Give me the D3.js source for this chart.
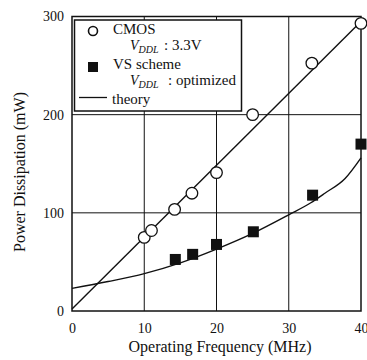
<!DOCTYPE html>
<html>
<head>
<meta charset="utf-8">
<script src="https://cdn.jsdelivr.net/npm/d3@7/dist/d3.min.js"></script>
<style>
  html, body { margin: 0; padding: 0; background: #fff; }
  svg { display: block; font-family: "Liberation Serif", "Times New Roman", serif; }
</style>
</head>
<body>
<svg id="chart" width="367" height="360"></svg>
<script>
// Measured power vs. operating frequency
const cmosFreq  = [10, 11, 14.2, 16.6, 20, 25, 33.2, 40];
const cmosPower = [75, 82, 103.5, 120, 141, 200, 252.5, 293];

const vsFreq  = [14.3, 16.7, 20, 25.1, 33.3, 40];
const vsPower = [52.5, 57.7, 67.8, 80.7, 118, 170];

// Theory curves
const cmosTheoryFreq  = [0, 40];
const cmosTheoryPower = [2, 295];
const vsTheoryFreq  = [0, 5, 10, 15, 20, 25, 30, 33, 35, 37.8, 40];
const vsTheoryPower = [23, 30, 38, 49, 63, 79, 98, 110, 120, 135, 156];

const xTicks = [0, 10, 20, 30, 40];
const yTicks = [0, 100, 200, 300];

const W = 367, H = 360;
const margin = { left: 72, right: 6, top: 16.5, bottom: 49 };

const svg = d3.select("#chart");
const x = d3.scaleLinear().domain([0, 40]).range([margin.left, W - margin.right]);
const y = d3.scaleLinear().domain([0, 300]).range([H - margin.bottom, margin.top]);

// Grid lines
const grid = svg.append("g").attr("stroke", "#111").attr("stroke-width", 1);
grid.selectAll("line.vx").data(xTicks.slice(1, -1)).join("line")
  .attr("x1", d => x(d)).attr("x2", d => x(d))
  .attr("y1", y(0)).attr("y2", y(300));
grid.selectAll("line.hy").data(yTicks.slice(1, -1)).join("line")
  .attr("x1", x(0)).attr("x2", x(40))
  .attr("y1", d => y(d)).attr("y2", d => y(d));

// Frame
svg.append("rect")
  .attr("x", x(0)).attr("y", y(300))
  .attr("width", x(40) - x(0)).attr("height", y(0) - y(300))
  .attr("fill", "none").attr("stroke", "#111").attr("stroke-width", 1.5);

// Axes (labels only; frame already drawn)
const xAxis = svg.append("g")
  .attr("transform", `translate(0,${y(0)})`)
  .call(d3.axisBottom(x).tickValues(xTicks).tickSize(0).tickPadding(12));
const yAxis = svg.append("g")
  .attr("transform", `translate(${x(0)},0)`)
  .call(d3.axisLeft(y).tickValues(yTicks).tickSize(0).tickPadding(8));
[xAxis, yAxis].forEach(g => {
  g.select(".domain").remove();
  g.selectAll("text")
    .attr("font-family", "Liberation Serif, Times New Roman, serif")
    .attr("font-size", 14).attr("fill", "#111");
});

// Axis titles
svg.append("text")
  .attr("x", 220).attr("y", 352)
  .attr("text-anchor", "middle").attr("font-size", 16).attr("fill", "#111")
  .text("Operating Frequency (MHz)");
svg.append("text")
  .attr("transform", `translate(25,172) rotate(-90)`)
  .attr("text-anchor", "middle").attr("font-size", 16).attr("fill", "#111")
  .text("Power Dissipation (mW)");

// Theory lines
const line = d3.line().x(d => x(d[0])).y(d => y(d[1]));
svg.append("path")
  .datum(d3.zip(cmosTheoryFreq, cmosTheoryPower))
  .attr("d", line).attr("fill", "none").attr("stroke", "#111").attr("stroke-width", 1.4);
svg.append("path")
  .datum(d3.zip(vsTheoryFreq, vsTheoryPower))
  .attr("d", line.curve(d3.curveMonotoneX)).attr("fill", "none")
  .attr("stroke", "#111").attr("stroke-width", 1.4);

// Data markers
svg.append("g").selectAll("circle")
  .data(d3.zip(cmosFreq, cmosPower)).join("circle")
  .attr("cx", d => x(d[0])).attr("cy", d => y(d[1])).attr("r", 5.8)
  .attr("fill", "#fff").attr("stroke", "#111").attr("stroke-width", 1.3);
const sq = 11;
svg.append("g").selectAll("rect")
  .data(d3.zip(vsFreq, vsPower)).join("rect")
  .attr("x", d => x(d[0]) - sq / 2).attr("y", d => y(d[1]) - sq / 2)
  .attr("width", sq).attr("height", sq).attr("fill", "#111");

// Legend
const lg = svg.append("g");
lg.append("rect").attr("x", 74.5).attr("y", 20).attr("width", 167).attr("height", 91)
  .attr("fill", "#fff").attr("stroke", "#111").attr("stroke-width", 1.5);
lg.append("circle").attr("cx", 93).attr("cy", 31).attr("r", 4.5)
  .attr("fill", "#fff").attr("stroke", "#111").attr("stroke-width", 1.6);
lg.append("rect").attr("x", 88).attr("y", 62).attr("width", 10).attr("height", 10).attr("fill", "#111");
lg.append("line").attr("x1", 79).attr("x2", 107).attr("y1", 97.5).attr("y2", 97.5)
  .attr("stroke", "#111").attr("stroke-width", 1.3);

const t = (xx, yy, size) => lg.append("text").attr("x", xx).attr("y", yy)
  .attr("font-size", size || 15).attr("fill", "#111");
t(113, 34).text("CMOS");
t(130, 50, 14).attr("font-style", "italic").text("V");
t(138.5, 52.5, 10).attr("font-style", "italic").text("DDL");
t(164, 50).text(": 3.3V");
t(113, 68.5).text("VS scheme");
t(130, 85, 14).attr("font-style", "italic").text("V");
t(138.5, 87.5, 10).attr("font-style", "italic").text("DDL");
t(168, 85).text(": optimized");
t(112, 104).text("theory");
</script>
</body>
</html>
